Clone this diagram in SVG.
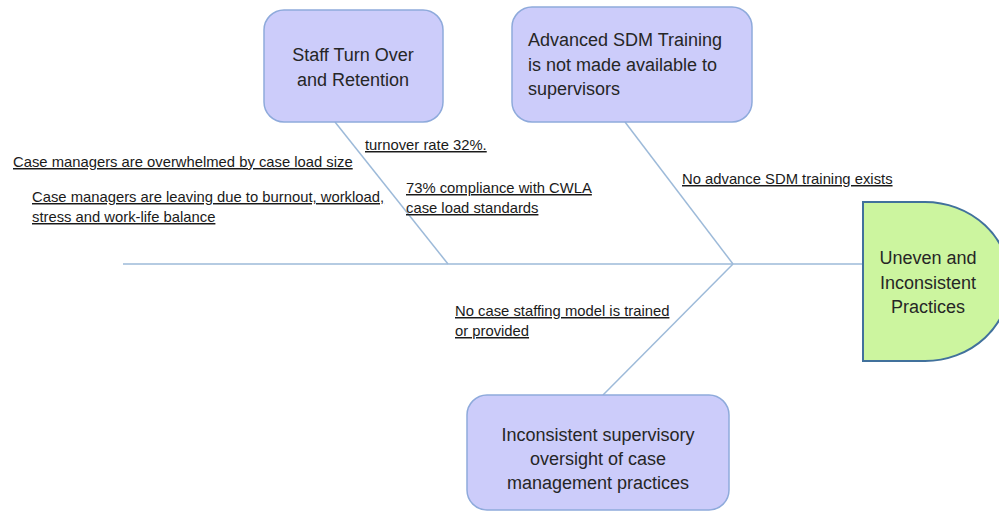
<svg xmlns="http://www.w3.org/2000/svg" width="999" height="517" viewBox="0 0 999 517">
<style>
.box{fill:#ccccfa;stroke:#8eaadb;stroke-width:1.5}
.head{fill:#ccf59f;stroke:#41719c;stroke-width:2}
.bt{font-family:"Liberation Sans",Arial,sans-serif;font-size:18px;fill:#262626}
.lbl{font-family:"Liberation Sans",Arial,sans-serif;font-size:14.8px;fill:#1a1a1a;text-decoration:underline}
.ln{stroke:#9dbad9;stroke-width:1.5;fill:none}
</style>
<rect width="999" height="517" fill="#ffffff"/>
<g id="connectors">
<line class="ln" x1="123" y1="264" x2="863" y2="264"/>
<line class="ln" x1="335" y1="122" x2="448" y2="264"/>
<line class="ln" x1="625" y1="122" x2="733" y2="264"/>
<line class="ln" x1="733" y1="264" x2="603" y2="395"/>
</g>
<g id="node-staff">
<rect class="box" x="264" y="10" width="179" height="112" rx="20"/>
<text class="bt" text-anchor="middle"><tspan x="353" y="61">Staff Turn Over</tspan><tspan x="353" y="86">and Retention</tspan></text>
</g>
<g id="node-sdm">
<rect class="box" x="512" y="7" width="240" height="115" rx="20"/>
<text class="bt"><tspan x="528" y="46">Advanced SDM Training</tspan><tspan x="528" y="71">is not made available to</tspan><tspan x="528" y="95">supervisors</tspan></text>
</g>
<g id="node-oversight">
<rect class="box" x="467" y="395" width="262" height="115" rx="20"/>
<text class="bt" text-anchor="middle"><tspan x="598" y="441">Inconsistent supervisory</tspan><tspan x="598" y="465">oversight of case</tspan><tspan x="598" y="489">management practices</tspan></text>
</g>
<g id="node-effect">
<path class="head" d="M863,202 H925 A85,79.5 0 0 1 925,361 H863 Z"/>
<text class="bt" text-anchor="middle"><tspan x="928" y="264">Uneven and</tspan><tspan x="928" y="289">Inconsistent</tspan><tspan x="928" y="313">Practices</tspan></text>
</g>
<g id="labels">
<text class="lbl" x="13" y="167">Case managers are overwhelmed by case load size</text>
<text class="lbl"><tspan x="32" y="202">Case managers are leaving due to burnout, workload,</tspan><tspan x="32" y="222">stress and work-life balance</tspan></text>
<text class="lbl" x="365" y="150">turnover rate 32%.</text>
<text class="lbl"><tspan x="406" y="193">73% compliance with CWLA</tspan><tspan x="406" y="213">case load standards</tspan></text>
<text class="lbl" x="682" y="184">No advance SDM training exists</text>
<text class="lbl"><tspan x="455" y="316">No case staffing model is trained</tspan><tspan x="455" y="336">or provided</tspan></text>
</g>
</svg>
